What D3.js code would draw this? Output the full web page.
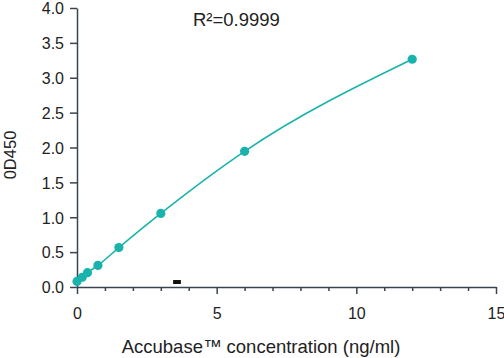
<!DOCTYPE html>
<html>
<head>
<meta charset="utf-8">
<script src="https://cdn.jsdelivr.net/npm/d3@7"></script>
<style>
  html, body { margin: 0; padding: 0; background: #fff; }
  svg { display: block; font-family: "Liberation Sans", Arial, sans-serif; }
</style>
</head>
<body>
<svg id="chart" width="504" height="358"></svg>
<script>
// Data
const concentrations = [0, 0.1875, 0.375, 0.75, 1.5, 3, 6, 12];
const od450 = [0.08, 0.14, 0.205, 0.31, 0.565, 1.055, 1.945, 3.265];
const xMajorTicks = [0, 5, 10, 15];
const xMinorTicks = [1, 2, 3, 4, 6, 7, 8, 9, 11, 12, 13, 14];
const yTicks = [0, 0.5, 1, 1.5, 2, 2.5, 3, 3.5, 4];
const markerX = [3.44, 3.72];
const markerY = [0.043, 0.1];
const rSquaredLabel = "R²=0.9999";
const xTitle = "Accubase™ concentration (ng/ml)";
const yTitle = "0D450";

const svg = d3.select("#chart");
const axisColor = "#3b4452";
const teal = "#19b3ab";

const x = d3.scaleLinear().domain([0, 15]).range([77, 496]);
const y = d3.scaleLinear().domain([0, 4]).range([287, 8]);

// X axis (major)
svg.append("g").attr("transform", `translate(0,${y(0)})`)
  .call(d3.axisBottom(x).tickValues(xMajorTicks).tickFormat(d3.format("d"))
    .tickSize(7).tickSizeOuter(0).tickPadding(14));
// X minor ticks
svg.append("g").attr("transform", `translate(0,${y(0)})`)
  .call(d3.axisBottom(x).tickValues(xMinorTicks).tickFormat("").tickSize(4).tickSizeOuter(0))
  .call(g => g.select(".domain").remove());

// Y axis
svg.append("g").attr("transform", `translate(${x(0)},0)`)
  .call(d3.axisLeft(y).tickValues(yTicks).tickFormat(d3.format(".1f"))
    .tickSize(7).tickSizeOuter(0).tickPadding(6))
  .call(g => g.selectAll(".tick text").attr("dy", "0.36em"));

svg.selectAll(".domain").attr("stroke", axisColor).attr("stroke-width", 1.5);
svg.selectAll(".tick line").attr("stroke", axisColor).attr("stroke-width", 1.5);
svg.selectAll(".tick text").attr("fill", "#222").attr("font-size", 16)
  .attr("font-family", "'Liberation Sans', Arial, sans-serif");

// Fit curve
const line = d3.line()
  .x((d, i) => x(concentrations[i]))
  .y(d => y(d))
  .curve(d3.curveMonotoneX);
svg.append("path").datum(od450)
  .attr("d", line)
  .attr("fill", "none")
  .attr("stroke", teal)
  .attr("stroke-width", 1.6);

// Points
svg.append("g").selectAll("circle").data(od450).join("circle")
  .attr("cx", (d, i) => x(concentrations[i]))
  .attr("cy", d => y(d))
  .attr("r", 4.6)
  .attr("fill", teal);

// small black marker
svg.append("rect")
  .attr("x", x(markerX[0])).attr("y", y(markerY[1]))
  .attr("width", x(markerX[1]) - x(markerX[0]))
  .attr("height", y(markerY[0]) - y(markerY[1]))
  .attr("fill", "#111");

// R² label
svg.append("text").attr("x", 193).attr("y", 26)
  .attr("font-size", 18.5).attr("fill", "#222").text(rSquaredLabel);

// Axis titles
svg.append("text").attr("x", 261).attr("y", 353)
  .attr("text-anchor", "middle").attr("font-size", 18.5).attr("fill", "#222")
  .text(xTitle);
svg.append("text")
  .attr("transform", "translate(16,155) rotate(-90)")
  .attr("text-anchor", "middle").attr("font-size", 16.5).attr("fill", "#222")
  .text(yTitle);
</script>
</body>
</html>
